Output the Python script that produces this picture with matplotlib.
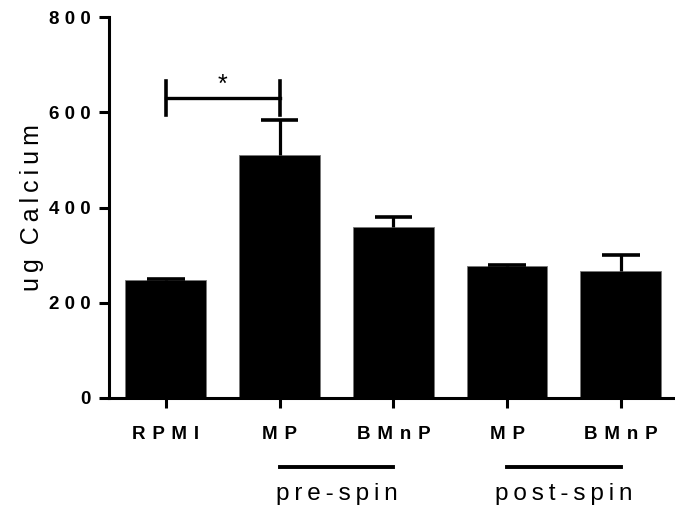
import matplotlib
matplotlib.use("Agg")
import matplotlib.pyplot as plt
import matplotlib.transforms as mtransforms
from matplotlib.ticker import FuncFormatter

categories = ["RPMI", "MP", "BMnP", "MP", "BMnP"]
means = [247, 510, 359, 277, 267]
errors = [2, 74, 21, 3, 33]
groups = [("pre-spin", 1, 2), ("post-spin", 3, 4)]
yticks = [0, 200, 400, 600, 800]
sig_pair = (0, 1)
sig_y = 630
sig_label = "*"

FONT = ["Liberation Sans", "DejaVu Sans"]
plt.rcParams['font.family'] = FONT

def spaced(s, gap, wordgap=None):
    if wordgap is None:
        wordgap = gap + " " + gap
    return wordgap.join(gap.join(w) for w in s.split(" "))

fig = plt.figure(figsize=(6.75, 5.14), dpi=100)
ax = fig.add_axes([109/675, 1-398/514, 1-109/675-0.001, (398-17)/514])

x = list(range(len(categories)))
ax.bar(x, means, width=0.71, color="black", edgecolor="#777777", linewidth=0.6, zorder=2)
tops = [m + e for m, e in zip(means, errors)]
ax.vlines(x, means, tops, color="black", lw=2.3, zorder=3)
ax.hlines(tops, [xi - 0.165 for xi in x], [xi + 0.165 for xi in x], color="black", lw=2.6, zorder=3)

ax.set_xlim(-0.5, 4.47)
ax.set_ylim(0, 800)
ax.set_yticks(yticks)
ax.yaxis.set_major_formatter(FuncFormatter(lambda v, p: spaced(f"{int(v)}", " ")))
ax.set_xticks(x)
ax.set_xticklabels([spaced(c, " \u200a") for c in categories])
for lab in ax.get_xticklabels():
    lab.set_fontweight("bold")
    lab.set_fontsize(13.5)
for lab in ax.get_yticklabels():
    lab.set_fontweight("bold")
    lab.set_fontsize(13.5)
ax.tick_params(axis="both", width=2.2, length=7, direction="out")
ax.tick_params(axis="x", pad=13.5)
ax.tick_params(axis="y", pad=6)
for s in ["top", "right"]:
    ax.spines[s].set_visible(False)
for s in ["left", "bottom"]:
    ax.spines[s].set_linewidth(2.2)

ax.set_ylabel(spaced("ug Calcium", "\u2009", "  "), fontsize=18)
ax.yaxis.set_label_coords(-0.115, 0.5)

# significance bracket
a, b = sig_pair
ax.plot([a, b], [sig_y, sig_y], color="black", lw=2.4, clip_on=False, zorder=4)
ax.plot([a, a], [sig_y - 35, sig_y + 35], color="black", lw=2.6, clip_on=False, zorder=4)
ax.plot([b, b], [sig_y - 35, sig_y + 35], color="black", lw=2.6, clip_on=False, zorder=4)
ax.text((a + b) / 2, 643, sig_label, ha="center", va="baseline", fontsize=18)

# group lines below axis
trans = mtransforms.blended_transform_factory(ax.transData, ax.transAxes)
for name, g0, g1 in groups:
    ax.plot([g0, g1], [-0.181, -0.181], color="black", lw=2.8, transform=trans, clip_on=False)
    ax.text((g0 + g1) / 2, -0.224, spaced(name, "\u2009"), transform=trans,
            ha="center", va="top", fontsize=17.5)

fig.savefig("out.png", dpi=100)
